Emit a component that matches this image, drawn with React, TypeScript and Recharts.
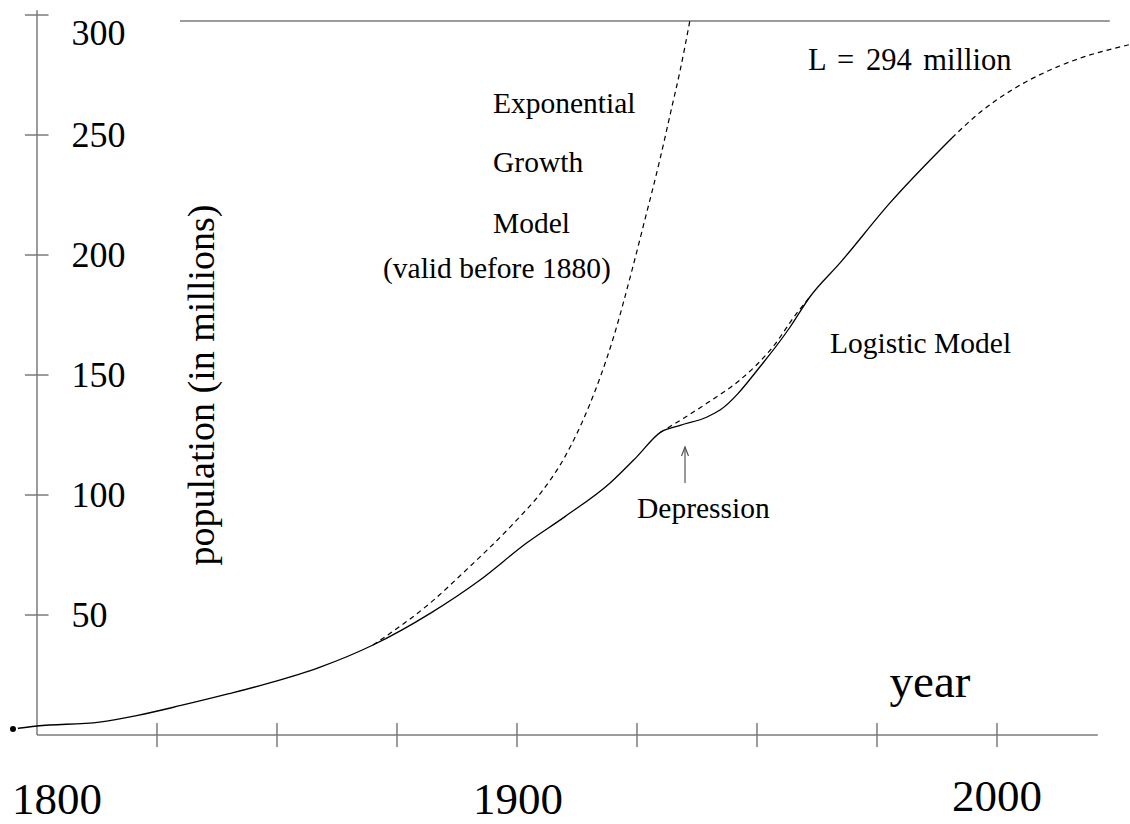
import React from 'react';
import { LineChart, Line, XAxis, YAxis, ReferenceLine } from 'recharts';

// US population models (years, millions)
const logisticYears = [1795, 1800, 1813, 1821, 1830, 1840, 1848.5, 1859, 1870, 1882, 1892.3, 1902, 1910, 1919.4, 1925, 1929.8, 1934, 1939.6, 1942.3, 1951.25, 1956.9, 1961, 1967.3, 1977.7, 1990.6];
const logisticPop = [2.5, 3.75, 5.4, 8.2, 12.3, 17.2, 21.7, 28.3, 37.5, 50.8, 64.6, 80, 91, 105, 116, 126, 129, 132.5, 135.4, 155, 170, 182.5, 196.7, 221.7, 248.75];

const trendYears = [1929.8, 1939.6, 1946.5, 1953.3, 1958.3, 1961];
const trendPop = [126, 138.3, 148, 161.7, 175.8, 182.5];

const futureYears = [1990.6, 1996.5, 2003.3, 2010.4, 2017.3, 2026.25, 2027.7];
const futurePop = [248.75, 259.5, 269, 276.5, 282, 287, 287.7];

const expYears = [1870, 1882.5, 1888.75, 1899.2, 1905, 1910, 1915, 1920, 1924, 1926.3, 1929.8, 1932.3, 1934, 1936];
const expPop = [37.5, 56, 67.5, 88, 101, 116, 137, 165, 194, 212, 240, 262, 277, 297.5];

const xTicks = [1800, 1825, 1850, 1875, 1900, 1925, 1950, 1975, 2000];
const xLabels: Record<number, string> = { 1800: '1800', 1900: '1900', 2000: '2000' };
const yTicks = [50, 100, 150, 200, 250, 300];

const CARRYING = 297.5;

const toPoints = (years: number[], values: number[]) =>
  years.map((year, i) => ({ year, pop: values[i] }));

const logisticData = toPoints(logisticYears, logisticPop);
const trendData = toPoints(trendYears, trendPop);
const futureData = toPoints(futureYears, futurePop);
const expData = toPoints(expYears, expPop);

const AXIS = '#7a7a7a';
const FONT = "'Liberation Serif', 'Times New Roman', serif";

// label nudges per x tick
const xLabelOffset: Record<number, [number, number]> = {
  1800: [20, 79],
  1900: [1, 79],
  2000: [0, 76],
};

function XTick(props: any) {
  const { x, y, payload } = props;
  const v = payload.value;
  const label = xLabels[v];
  const off = xLabelOffset[v] || [0, 79];
  return (
    <g>
      {v !== 1800 && (
        <line x1={x} x2={x} y1={y - 12} y2={y + 12} stroke={AXIS} strokeWidth={1.5} />
      )}
      {label && (
        <text x={x + off[0]} y={y + off[1]} textAnchor="middle" fontSize={45} fontFamily={FONT} fill="#000">
          {label}
        </text>
      )}
    </g>
  );
}

function yTickShape(value: number) {
  return (p: any) => (
    <g>
      <line x1={p.x1} y1={p.y1} x2={p.x2} y2={p.y2} stroke={AXIS} strokeWidth={1.5} />
      <text
        x={p.x2 + 23}
        y={p.y1 + (value === 300 ? 30 : 12)}
        fontSize={36}
        fontFamily={FONT}
        fill="#000"
      >
        {value}
      </text>
    </g>
  );
}

function arrowShape(p: any) {
  const top = Math.min(p.y1, p.y2);
  const bottom = Math.max(p.y1, p.y2);
  return (
    <g stroke="#555" strokeWidth={1.2} fill="none">
      <line x1={p.x1} y1={bottom} x2={p.x1} y2={top} />
      <polyline points={`${p.x1 - 3.5},${top + 9} ${p.x1},${top} ${p.x1 + 3.5},${top + 9}`} />
    </g>
  );
}

const textStyle = { fontFamily: FONT, fontSize: 29.5, fill: '#000' };

export default function App() {
  return (
    <div style={{ position: 'absolute', left: 0, top: 0, background: '#fff' }}>
      <LineChart width={1130} height={824} margin={{ top: 0, right: 0, bottom: 0, left: 0 }}>
        <XAxis
          type="number"
          dataKey="year"
          domain={[1800 - 37 / 4.8, 1800 + 1093 / 4.8]}
          allowDataOverflow
          ticks={xTicks}
          interval={0}
          tick={<XTick />}
          tickLine={false}
          axisLine={false}
          tickSize={0}
          tickMargin={0}
          height={89}
        />
        <YAxis type="number" dataKey="pop" domain={[0, 306.25]} allowDataOverflow hide />

        {/* axes */}
        <ReferenceLine
          segment={[{ x: 1800, y: 0 }, { x: 2021, y: 0 }]}
          stroke={AXIS}
          strokeWidth={1.5}
          ifOverflow="visible"
        />
        <ReferenceLine
          segment={[{ x: 1800, y: 0 }, { x: 1800, y: 302 }]}
          stroke={AXIS}
          strokeWidth={1.5}
          ifOverflow="visible"
        />
        {yTicks.map((v) => (
          <ReferenceLine
            key={v}
            segment={[{ x: 1797.5, y: v }, { x: 1802.4, y: v }]}
            ifOverflow="visible"
            shape={yTickShape(v)}
          />
        ))}

        {/* carrying capacity */}
        <ReferenceLine
          segment={[{ x: 1829.8, y: CARRYING }, { x: 2023.5, y: CARRYING }]}
          stroke={AXIS}
          strokeWidth={1.6}
          ifOverflow="visible"
        />

        {/* depression arrow */}
        <ReferenceLine
          segment={[{ x: 1935, y: 105 }, { x: 1935, y: 120 }]}
          ifOverflow="visible"
          shape={arrowShape}
        />

        <Line data={expData} dataKey="pop" type="monotone" stroke="#000" strokeWidth={1.2} strokeDasharray="5 4" dot={false} isAnimationActive={false} />
        <Line data={trendData} dataKey="pop" type="monotone" stroke="#000" strokeWidth={1.2} strokeDasharray="5 4" dot={false} isAnimationActive={false} />
        <Line data={futureData} dataKey="pop" type="monotone" stroke="#000" strokeWidth={1.2} strokeDasharray="5 4" dot={false} isAnimationActive={false} />
        <Line data={logisticData} dataKey="pop" type="monotone" stroke="#000" strokeWidth={1.3} dot={false} isAnimationActive={false} />

        <text x={493} y={113} {...textStyle}>Exponential</text>
        <text x={493} y={172} {...textStyle}>Growth</text>
        <text x={493} y={233} {...textStyle}>Model</text>
        <text x={383} y={278} {...textStyle}>(valid before 1880)</text>
        <text x={808} y={70} wordSpacing={4} {...textStyle} fontSize={30.5}>L = 294 million</text>
        <text x={830} y={353} {...textStyle}>Logistic Model</text>
        <text x={637} y={518} {...textStyle}>Depression</text>
        <text x={930} y={697} textAnchor="middle" fontFamily={FONT} fontSize={47} fill="#000">year</text>
        <text
          transform="translate(214,385) rotate(-90)"
          textAnchor="middle"
          fontFamily={FONT}
          fontSize={38}
          fill="#000"
        >
          population (in millions)
        </text>
      </LineChart>
    </div>
  );
}
